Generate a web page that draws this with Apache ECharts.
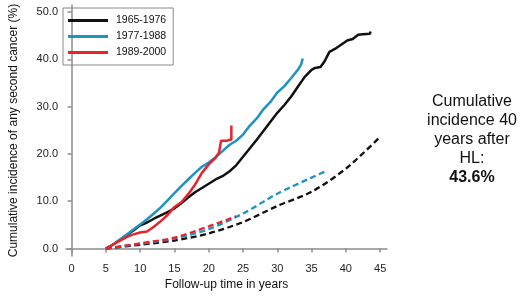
<!DOCTYPE html>
<html>
<head>
<meta charset="utf-8">
<script src="https://cdn.jsdelivr.net/npm/echarts@6/dist/echarts.min.js"></script>
<style>
  html, body { margin: 0; padding: 0; background: #fff; }
  #chart { width: 520px; height: 296px; }
</style>
</head>
<body>
<div id="chart"></div>
<script>
// cohorts (legend)
var cohorts = ['1965-1976', '1977-1988', '1989-2000'];
var colors = ['#111111', '#1e93c2', '#e8232b'];

// observed cumulative incidence [years, %]
var obs1965 = [[5,0],[6,0.8],[7,1.8],[8,2.8],[9,3.8],[10,4.9],[11,5.5],[12,6.3],[13,7.0],[14,7.7],[15,8.5],[16,9.6],[17,10.8],[18,11.9],[19,12.8],[20,13.7],[21,14.6],[22,15.3],[23,16.3],[24,17.6],[25,19.4],[26,21.2],[27,23.0],[28,24.9],[29,26.8],[30,28.7],[31,30.3],[32,32.1],[33,34.2],[34,36.3],[35,37.8],[35.5,38.2],[36.3,38.4],[36.9,39.6],[37.6,41.6],[38.4,42.2],[39.2,43.0],[40.2,44.0],[41,44.3],[41.8,45.2],[42.5,45.3],[43.5,45.4],[43.6,45.9]];
var obs1977 = [[5,0],[6,0.8],[7,1.8],[8,2.9],[9,4.0],[10,5.1],[11,6.2],[12,7.4],[13,8.7],[14,10.2],[15,11.7],[16,13.2],[17,14.6],[18,16.0],[19,17.3],[20,18.2],[21,19.3],[22,20.6],[23,21.9],[24,22.8],[25,24.1],[26,26.0],[27,27.5],[28,29.5],[29,31.0],[30,33.0],[31,34.3],[32,36.0],[33,37.8],[33.5,39.0],[33.6,38.6],[33.7,40.2]];
var obs1989 = [[5,0],[6,0.8],[7,1.6],[8,2.4],[9,3.0],[10,3.4],[11,3.6],[12,4.6],[13,5.8],[14,7.1],[15,8.8],[16,9.8],[17,11.5],[18,13.5],[19,16.0],[20,17.8],[21,19.2],[21.5,20.3],[21.8,22.8],[22.7,22.8],[23,23.0],[23.3,23.0],[23.3,26.0]];

// expected (general population) cumulative incidence
var exp1965 = [[5,0],[10,0.8],[15,1.7],[20,3.2],[25,5.6],[30,9.0],[35,12.0],[40,16.9],[45,23.6]];
var exp1977 = [[5,0],[10,1.0],[15,2.1],[20,4.1],[25,7.4],[30,11.6],[35,15.0],[37,16.3]];
var exp1989 = [[5,0],[10,1.1],[15,2.3],[20,4.7],[24,6.8]];

var xTicks = [0,5,10,15,20,25,30,35,40,45];
var yTicks = [0,10,20,30,40,50];

var observed = [obs1965, obs1977, obs1989];
var expected = [exp1965, exp1977, exp1989];

var series = [];
observed.forEach(function(d, i) {
    series.push({
        name: cohorts[i], type: 'line', data: d, symbol: 'none',
        lineStyle: { color: colors[i], width: 2.5 }, itemStyle: { color: colors[i] },
        z: 3
    });
});
expected.forEach(function(d, i) {
    series.push({
        name: cohorts[i] + ' expected', type: 'line', data: d, symbol: 'none', smooth: 0.3,
        lineStyle: { color: colors[i], width: 2.3, type: [6, 3.5] }, itemStyle: { color: colors[i] },
        z: 2
    });
});

var axisGray = '#8c8c8c';
var option = {
    animation: false,
    grid: { left: 62, right: 133, top: 5, bottom: 34 },
    legend: {
        data: cohorts, orient: 'vertical', left: 63, top: 8,
        icon: 'rect', itemWidth: 40, itemHeight: 3, itemGap: 3,
        padding: [6, 7, 6, 5],
        borderColor: '#888', borderWidth: 1,
        textStyle: { fontFamily: 'Liberation Sans', fontSize: 10.5, lineHeight: 13, padding: [0, 0, 0, 3], color: '#111' }
    },
    xAxis: {
        type: 'value', min: -0.82, max: 46,
        name: 'Follow-up time in years', nameLocation: 'middle', nameGap: 22,
        nameTextStyle: { fontFamily: 'Liberation Sans', fontSize: 12, color: '#111' },
        axisLine: { show: true, lineStyle: { color: axisGray, width: 1.5 } },
        axisTick: { show: true, length: 4, customValues: xTicks, lineStyle: { color: axisGray, width: 1.5 } },
        axisLabel: { customValues: xTicks, margin: 7, fontFamily: 'Liberation Sans', fontSize: 11, color: '#222' },
        splitLine: { show: false }
    },
    yAxis: {
        type: 'value', min: -1.6, max: 51.5,
        name: 'Cumulative incidence of any second cancer (%)', nameLocation: 'middle', nameGap: 46,
        nameTextStyle: { fontFamily: 'Liberation Sans', fontSize: 12, color: '#111' },
        axisLine: { show: true, lineStyle: { color: axisGray, width: 1.5 } },
        axisTick: { show: true, length: 4, customValues: yTicks, lineStyle: { color: axisGray, width: 1.5 } },
        axisLabel: {
            customValues: yTicks, margin: 8, fontFamily: 'Liberation Sans', fontSize: 11, color: '#222',
            formatter: function(v) { return v.toFixed(1); }
        },
        splitLine: { show: false }
    },
    graphic: [{
        type: 'text', left: 472 - 60, top: 92,
        style: {
            text: 'Cumulative\nincidence 40\nyears after\nHL:\n{b|43.6%}',
            width: 120, align: 'center', textAlign: 'center',
            x: 60, fontFamily: 'Liberation Sans', fontSize: 16, lineHeight: 19, fill: '#111',
            rich: { b: { fontWeight: 'bold', fontSize: 16, lineHeight: 19, fontFamily: 'Liberation Sans' } }
        }
    }],
    series: series
};

var chart = echarts.init(document.getElementById('chart'));
chart.setOption(option);
</script>
</body>
</html>
